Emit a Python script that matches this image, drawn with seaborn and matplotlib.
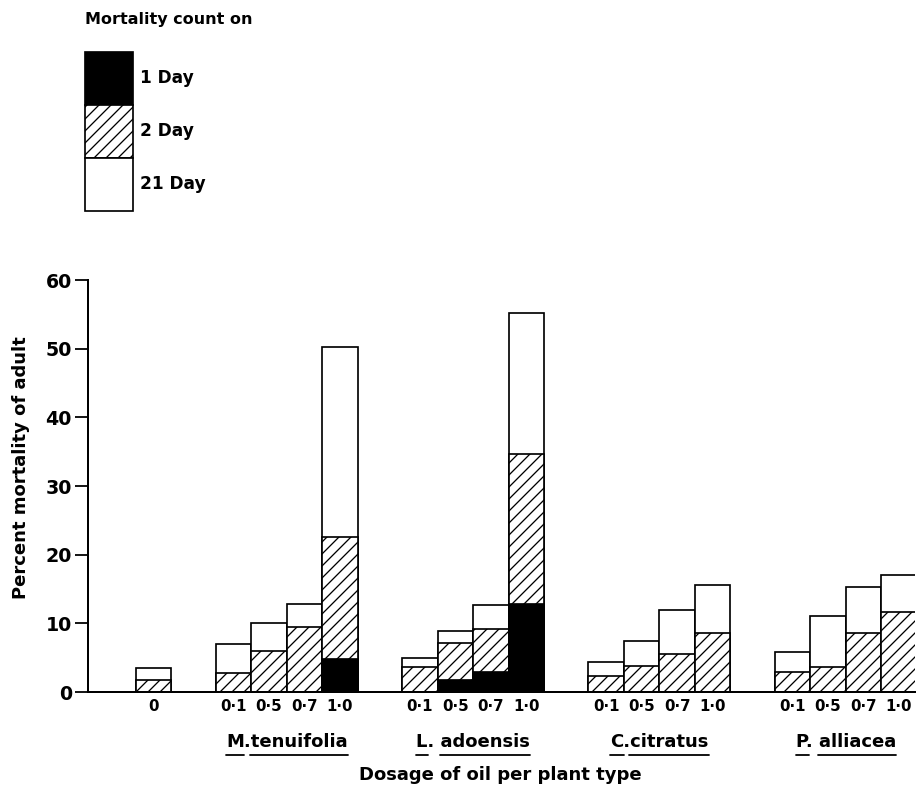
import numpy as np
import pandas as pd
import matplotlib
matplotlib.use("Agg")
import matplotlib.pyplot as plt
from matplotlib.patches import Patch
from matplotlib.lines import Line2D
from matplotlib.transforms import IdentityTransform
import seaborn as sns

# ---------------- data ----------------
plants = ["M.tenuifolia", "L. adoensis", "C.citratus", "P. alliacea"]
doses = ["0·1", "0·5", "0·7", "1·0"]
control_label = "0"

control_day21 = 3.5
control_day2 = 1.7
control_day1 = 0.0

# cumulative percent mortality after 21 days, 2 days and 1 day
day21 = [[7.0, 10.0, 12.8, 50.2],
         [5.0, 8.9, 12.6, 55.2],
         [4.3, 7.4, 12.0, 15.6],
         [5.8, 11.0, 15.3, 17.0]]
day2 = [[2.8, 5.9, 9.4, 22.6],
        [3.7, 7.1, 9.2, 34.7],
        [2.3, 3.8, 5.6, 8.6],
        [2.9, 3.7, 8.6, 11.7]]
day1 = [[0.0, 0.0, 0.0, 4.8],
        [0.0, 1.7, 2.9, 12.8],
        [0.0, 0.0, 0.0, 0.0],
        [0.0, 0.0, 0.0, 0.0]]

legend_labels = ["1 Day", "2 Day", "21 Day"]
legend_title = "Mortality count on"
ylabel = "Percent mortality of adult"
xlabel = "Dosage of oil per plant type"
yticks = [0, 10, 20, 30, 40, 50, 60]

# ---------------- layout ----------------
CTRL_X = 1.85
G0 = 4.1
G_STEP = 5.25

rows = [dict(plant="control", label=control_label, x=CTRL_X,
             d21=control_day21, d2=control_day2, d1=control_day1)]
for g, p in enumerate(plants):
    for j, d in enumerate(doses):
        rows.append(dict(plant=p, label=d, x=round(G0 + g * G_STEP + j, 3),
                         d21=day21[g][j], d2=day2[g][j], d1=day1[g][j]))
df = pd.DataFrame(rows)

sns.set_style("ticks")
plt.rcParams["font.family"] = ["DejaVu Sans"]
plt.rcParams["font.weight"] = "bold"
plt.rcParams["hatch.linewidth"] = 1.3
plt.rcParams["hatch.color"] = "black"
for k in ["text.color", "axes.labelcolor", "xtick.color", "ytick.color", "axes.edgecolor"]:
    plt.rcParams[k] = "black"

DPI = 72
fig = plt.figure(figsize=(924 / DPI, 793 / DPI), dpi=DPI)
fig.patch.set_facecolor("white")
ax = fig.add_axes([88 / 924, 1 - 692 / 793, (915 - 88) / 924, (692 - 280) / 793])
ax.set_facecolor("white")

common = dict(x="x", native_scale=True, width=1.0, orient="x", errorbar=None,
              saturation=1, edgecolor="black", linewidth=1.7, ax=ax)
sns.barplot(data=df, y="d21", color="white", **common)
sns.barplot(data=df, y="d2", color="white", hatch="//", **common)
sns.barplot(data=df, y="d1", color="black", **common)

ax.set_xlim(0, 23.3)
ax.set_ylim(0, 60)
ax.set_yticks(yticks)
ax.set_xticks(df["x"].tolist(), df["label"].tolist())
ax.tick_params(axis="x", length=0, pad=7, labelsize=15)
ax.tick_params(axis="y", length=13, width=1.8, pad=3, labelsize=19, direction="out")
for lab in ax.get_xticklabels() + ax.get_yticklabels():
    lab.set_fontweight("bold")
for s in ["top", "right"]:
    ax.spines[s].set_visible(False)
for s in ["left", "bottom"]:
    ax.spines[s].set_linewidth(2.0)

ax.set_ylabel(ylabel, fontsize=18, fontweight="bold")
ax.yaxis.set_label_coords(-0.07, 0.545)
ax.set_xlabel(xlabel, fontsize=18, fontweight="bold")
ax.xaxis.set_label_coords(0.498, -0.18)

GFS = 18
group_texts = []
for g, p in enumerate(plants):
    xs = df.loc[df["plant"] == p, "x"]
    cx = (xs.min() + xs.max()) / 2
    t = ax.text(cx, -0.122, p, transform=ax.get_xaxis_transform(), ha="center",
                va="center", fontsize=GFS, fontweight="bold")
    group_texts.append(t)

handles = [Patch(facecolor="black", edgecolor="black", linewidth=1.7),
           Patch(facecolor="white", edgecolor="black", hatch="//", linewidth=1.7),
           Patch(facecolor="white", edgecolor="black", linewidth=1.7)]
leg = fig.legend(handles, legend_labels, loc="upper left",
                 bbox_to_anchor=(85 / 924, 1 - 12 / 793), frameon=False,
                 prop={"weight": "bold", "size": 17}, title=legend_title,
                 title_fontproperties={"weight": "bold", "size": 16},
                 alignment="left", handlelength=2.8, handleheight=4.42,
                 labelspacing=0, handletextpad=0.45, borderpad=0, borderaxespad=0)
leg._legend_box.sep = 25

# underline the species names (genus initial and epithet separately)
fig.canvas.draw()
renderer = fig.canvas.get_renderer()
for t in group_texts:
    s = t.get_text()
    bb = t.get_window_extent(renderer)
    rest = s.split(".")[-1].strip()
    prefix = s[: len(s) - len(rest)]
    tmp1 = ax.text(0, 0, s[0], fontsize=GFS, fontweight="bold")
    tmp2 = ax.text(0, 0, prefix, fontsize=GFS, fontweight="bold")
    w1 = tmp1.get_window_extent(renderer).width
    w2 = tmp2.get_window_extent(renderer).width
    tmp1.remove()
    tmp2.remove()
    y = bb.y0 - 4
    fig.add_artist(Line2D([bb.x0, bb.x0 + w1], [y, y], transform=IdentityTransform(),
                          color="black", linewidth=1.8))
    fig.add_artist(Line2D([bb.x0 + w2 - 1, bb.x1], [y, y], transform=IdentityTransform(),
                          color="black", linewidth=1.8))

fig.savefig("out.png", dpi=DPI, facecolor="white")
